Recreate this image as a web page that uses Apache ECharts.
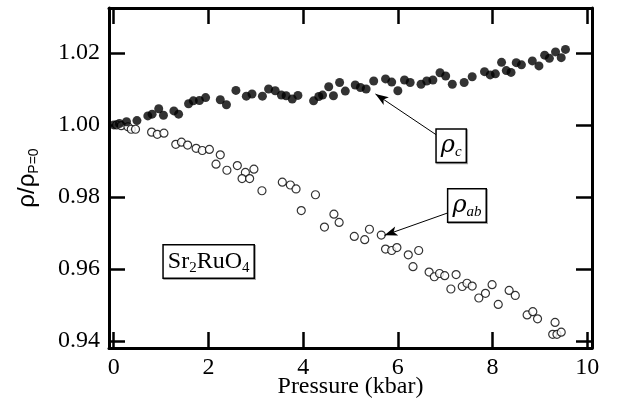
<!DOCTYPE html>
<html>
<head>
<meta charset="utf-8">
<script src="https://cdn.jsdelivr.net/npm/echarts@6/dist/echarts.min.js"></script>
<style>html,body{margin:0;padding:0;background:#fff}#c{width:618px;height:414px}</style>
</head>
<body>
<div id="c"></div>
<script>
// Data
const xTicks = [0, 2, 4, 6, 8, 10];
const yTicks = [0.94, 0.96, 0.98, 1.00, 1.02];

const rhoC_P = [0,0.12,0.27,0.49,0.72,0.81,0.95,1.05,1.27,1.37,1.58,1.68,1.81,1.94,2.25,2.38,2.58,2.80,2.92,3.14,3.27,3.41,3.54,3.64,3.77,3.89,4.22,4.33,4.41,4.54,4.64,4.77,4.89,5.10,5.21,5.33,5.49,5.74,5.87,6.00,6.14,6.26,6.49,6.61,6.74,6.89,7.01,7.15,7.40,7.57,7.83,7.95,8.06,8.19,8.29,8.39,8.50,8.61,8.84,8.98,9.10,9.20,9.33,9.45,9.54];
const rhoC_R = [1.0000,1.0004,1.0009,1.0012,1.0025,1.0030,1.0045,1.0027,1.0039,1.0030,1.0059,1.0067,1.0068,1.0076,1.0070,1.0056,1.0096,1.0080,1.0086,1.0080,1.0100,1.0095,1.0083,1.0081,1.0072,1.0082,1.0067,1.0079,1.0083,1.0106,1.0081,1.0118,1.0094,1.0111,1.0104,1.0100,1.0122,1.0128,1.0119,1.0095,1.0125,1.0118,1.0113,1.0122,1.0125,1.0145,1.0136,1.0113,1.0118,1.0134,1.0148,1.0139,1.0142,1.0174,1.0151,1.0146,1.0173,1.0167,1.0178,1.0164,1.0194,1.0185,1.0203,1.0187,1.0210];

const rhoAB_P = [0.06,0.16,0.30,0.37,0.46,0.80,0.92,1.06,1.31,1.43,1.56,1.74,1.87,2.02,2.25,2.16,2.39,2.61,2.78,2.71,2.87,2.96,3.13,3.56,3.73,3.85,3.96,4.26,4.45,4.65,4.76,5.08,5.30,5.40,5.65,5.74,5.87,5.98,6.22,6.44,6.32,6.66,6.77,6.88,6.99,7.23,7.12,7.36,7.46,7.57,7.71,7.85,7.99,8.12,8.35,8.48,8.73,8.85,8.95,9.32,9.27,9.36,9.45];
const rhoAB_R = [1.0000,0.9998,0.9995,0.9988,0.9988,0.9980,0.9974,0.9977,0.9946,0.9952,0.9944,0.9935,0.9929,0.9932,0.9917,0.9891,0.9874,0.9887,0.9868,0.9851,0.9851,0.9877,0.9817,0.9841,0.9833,0.9822,0.9762,0.9806,0.9716,0.9752,0.9729,0.9690,0.9681,0.9710,0.9694,0.9655,0.9651,0.9659,0.9639,0.9651,0.9606,0.9591,0.9578,0.9587,0.9581,0.9584,0.9544,0.9551,0.9560,0.9552,0.9519,0.9532,0.9556,0.9501,0.9540,0.9526,0.9472,0.9481,0.9461,0.9451,0.9418,0.9418,0.9424];

// Annotation anchors (data coordinates)
const labelC = [7.126, 0.99422];
const arrowC = [[6.847, 0.99694], [5.527, 1.00861]];
const labelAB = [7.459, 0.97764];
const arrowAB = [[7.075, 0.97564], [5.717, 0.96931]];
const labelSample = [2.004, 0.96203];

const zip = (a, b) => a.map((v, i) => [v, b[i]]);

const serif = 'Liberation Serif';
const axisBase = {
  axisLine: { show: true, onZero: false, lineStyle: { color: '#000', width: 3 } },
  axisTick: { show: true, inside: true, length: 16, lineStyle: { color: '#000', width: 2.5 } },
  splitLine: { show: false }
};

const boxLabel = (fmt, rich) => ({
  show: true, position: 'inside', formatter: fmt,
  backgroundColor: '#fff', borderColor: '#000', borderWidth: 1.5,
  padding: [2, 4, 2, 4], rich: rich,
  shadowColor: 'rgba(0,0,0,0.35)', shadowOffsetX: 1, shadowOffsetY: 1, shadowBlur: 0
});
const rhoRich = {
  r: { fontFamily: 'DejaVu Serif', fontStyle: 'italic', fontSize: 24, lineHeight: 28, color: '#000', verticalAlign: 'middle' },
  s: { fontFamily: serif, fontStyle: 'italic', fontSize: 15, lineHeight: 16, color: '#000', verticalAlign: 'bottom' }
};
const sampleRich = {
  n: { fontFamily: serif, fontSize: 24, lineHeight: 28, color: '#000', verticalAlign: 'middle' },
  s: { fontFamily: serif, fontSize: 15, lineHeight: 16, color: '#000', verticalAlign: 'bottom' }
};

const arrowLine = (seg) => [
  { coord: seg[0], symbol: 'none' },
  { coord: seg[1], symbol: 'arrow', symbolSize: [7, 13] }
];

const chart = echarts.init(document.getElementById('c'), null, { renderer: 'canvas' });
chart.setOption({
  animation: false,
  backgroundColor: '#fff',
  grid: { left: 109, right: 26, top: 8, bottom: 66 },
  xAxis: [
    Object.assign({}, axisBase, {
      type: 'value', min: -0.1, max: 10.1, position: 'bottom',
      axisTick: Object.assign({}, axisBase.axisTick, { customValues: xTicks }),
      axisLabel: { customValues: xTicks, margin: 8, fontFamily: serif, fontSize: 24, color: '#000' },
      name: 'Pressure (kbar)', nameLocation: 'middle', nameGap: 27, nameMoveOverlap: false,
      nameTextStyle: { fontFamily: serif, fontSize: 24, color: '#000' }
    }),
    Object.assign({}, axisBase, {
      type: 'value', min: -0.1, max: 10.1, position: 'top',
      axisTick: Object.assign({}, axisBase.axisTick, { customValues: xTicks }),
      axisLabel: { show: false }
    })
  ],
  yAxis: [
    Object.assign({}, axisBase, {
      type: 'value', min: 0.938, max: 1.0325, position: 'left',
      axisTick: Object.assign({}, axisBase.axisTick, { customValues: yTicks }),
      axisLabel: { customValues: yTicks, margin: 9, fontFamily: serif, fontSize: 24, color: '#000',
        formatter: v => v.toFixed(2) },
      name: '{r|ρ/ρ}{s|P=0}', nameLocation: 'middle', nameGap: 68, nameRotate: 90, nameMoveOverlap: false,
      nameTextStyle: {
        rich: {
          r: { fontFamily: 'Liberation Sans', fontSize: 24, lineHeight: 28, color: '#000', verticalAlign: 'middle' },
          s: { fontFamily: 'Liberation Sans', fontSize: 14, lineHeight: 14, color: '#000', verticalAlign: 'bottom' }
        }
      }
    }),
    Object.assign({}, axisBase, {
      type: 'value', min: 0.938, max: 1.0325, position: 'right',
      axisTick: Object.assign({}, axisBase.axisTick, { customValues: yTicks }),
      axisLabel: { show: false }
    })
  ],
  series: [
    {
      name: 'rho_ab', type: 'scatter', data: zip(rhoAB_P, rhoAB_R),
      symbol: 'circle', symbolSize: 8,
      itemStyle: { color: '#fff', borderColor: '#000', borderWidth: 1.2 },
      markLine: {
        silent: true, animation: false, label: { show: false },
        lineStyle: { color: '#000', width: 1, type: 'solid' },
        data: [arrowLine(arrowAB)]
      },
      markPoint: {
        silent: true, symbol: 'rect', symbolSize: 1, itemStyle: { color: 'rgba(0,0,0,0)' },
        data: [
          { coord: labelAB, label: boxLabel('{r|ρ}{s|ab}', rhoRich) },
          { coord: labelSample, label: boxLabel('{n|Sr}{s|2}{n|RuO}{s|4}', sampleRich) }
        ]
      }
    },
    {
      name: 'rho_c', type: 'scatter', data: zip(rhoC_P, rhoC_R),
      symbol: 'circle', symbolSize: 9,
      itemStyle: { color: '#000' },
      markLine: {
        silent: true, animation: false, label: { show: false },
        lineStyle: { color: '#000', width: 1, type: 'solid' },
        data: [arrowLine(arrowC)]
      },
      markPoint: {
        silent: true, symbol: 'rect', symbolSize: 1, itemStyle: { color: 'rgba(0,0,0,0)' },
        data: [
          { coord: labelC, label: boxLabel('{r|ρ}{s|c}', rhoRich) }
        ]
      }
    }
  ]
});
</script>
</body>
</html>
